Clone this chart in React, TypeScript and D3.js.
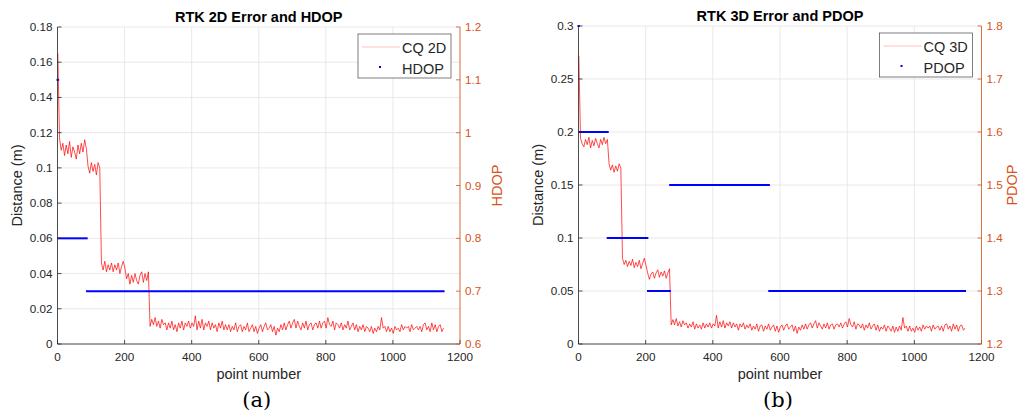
import React, { useEffect, useRef } from 'react';
import * as d3 from 'd3';

// point numbers: 1, 6, 11, ... (every 5th point)
const POINT_STEP = 5;

// CQ 2D error, mm
const err2d = [
  165, 117, 110, 114, 107, 113, 108, 115, 106, 112, 109, 105, 113, 108, 114, 109, 116, 111,
  101, 97, 103, 98, 102, 96, 103, 100,
  46, 42, 47, 41, 45, 42, 46, 41, 45, 42, 46, 40, 44, 47, 43,
  37, 40, 34, 39, 35, 40, 36, 34, 39, 41, 35, 40, 36, 41,
  10,
  14, 11, 15, 10, 13, 9, 14, 11, 12, 8, 12, 9, 13, 8, 11, 7, 12, 9, 13, 8, 12, 10, 13, 9, 12,
  10, 16, 8, 13, 9, 14, 8, 12, 10, 13, 8, 12, 9, 11, 7, 12, 9, 13, 8, 11,
  8, 11, 7, 10, 8, 12, 7, 10, 11, 7, 10, 8, 12, 7, 9, 11, 7, 10, 6, 9,
  11, 7, 10, 12, 8, 9, 11, 7, 10, 5, 9, 7, 11, 8, 12, 8, 11, 13, 9, 12,
  14, 9, 13, 10, 8, 12, 9, 13, 8, 11, 12, 8, 11, 12, 9, 13, 9, 12, 13, 9,
  15, 11, 10, 13, 8, 12, 11, 9, 12, 8, 11, 9, 13, 8, 10, 12, 8, 11, 7, 10,
  8, 11, 7, 10, 9, 7, 10, 6, 9, 7, 10, 8, 15, 9, 10, 7, 10, 7, 9, 6,
  10, 8, 9, 7, 11, 8, 10, 9, 10, 7, 11, 8, 9, 10, 8, 10, 7, 11, 12, 8,
  10, 7, 12, 8, 11, 7, 10, 11, 7, 9,
];

// CQ 3D error, mm
const err3d = [
  272, 194, 189, 186, 193, 188, 195, 185, 192, 187, 194, 189, 185, 193, 188, 195, 189, 193,
  170, 164, 169, 162, 168, 163, 170, 166,
  81, 75, 79, 73, 78, 74, 80, 72, 77, 73, 79, 71, 76, 81, 74,
  67, 61, 66, 68, 62, 67, 70, 63, 68, 64, 69, 62, 67, 71,
  18,
  23, 18, 24, 17, 21, 16, 22, 18, 20, 15, 19, 16, 21, 14, 19, 15, 18, 14, 20, 15, 19, 16, 20, 15, 19,
  17, 27, 15, 21, 16, 22, 15, 20, 17, 21, 15, 20, 16, 19, 13, 19, 16, 20, 14, 18,
  15, 19, 13, 17, 14, 19, 12, 17, 18, 12, 17, 14, 19, 13, 16, 18, 12, 17, 11, 16,
  18, 13, 17, 19, 14, 16, 18, 12, 17, 10, 16, 13, 18, 14, 19, 14, 18, 20, 15, 19,
  22, 15, 20, 17, 14, 19, 15, 20, 14, 18, 19, 14, 18, 19, 16, 20, 15, 19, 21, 16,
  24, 18, 16, 21, 14, 19, 18, 15, 19, 13, 18, 15, 20, 14, 17, 19, 13, 18, 12, 16,
  14, 18, 12, 17, 15, 12, 17, 11, 16, 12, 17, 13, 25, 15, 17, 12, 17, 12, 15, 11,
  17, 13, 16, 12, 18, 14, 17, 15, 17, 12, 18, 14, 16, 17, 13, 17, 12, 18, 19, 14,
  17, 12, 19, 14, 18, 12, 17, 18, 13, 15,
];

// DOP: constant runs (start point, end point, value)
const hdopStart = [0, 3, 88];
const hdopEnd = [2, 87, 1151];
const hdopValue = [1.1, 0.8, 0.7];

const pdopStart = [0, 3, 87, 207, 273, 568];
const pdopEnd = [1, 87, 205, 272, 567, 1151];
const pdopValue = [1.8, 1.6, 1.4, 1.3, 1.5, 1.3];

const xTicks = [0, 200, 400, 600, 800, 1000, 1200];
const dist2dTicks = [0, 0.02, 0.04, 0.06, 0.08, 0.1, 0.12, 0.14, 0.16, 0.18];
const hdopTicks = [0.6, 0.7, 0.8, 0.9, 1, 1.1, 1.2];
const dist3dTicks = [0, 0.05, 0.1, 0.15, 0.2, 0.25, 0.3];
const pdopTicks = [1.2, 1.3, 1.4, 1.5, 1.6, 1.7, 1.8];

const FONT = 'Liberation Sans, Arial, Helvetica, sans-serif';
const AX = '#262626';
const OR = '#D95319';

type PanelCfg = {
  left: number;
  right: number;
  top: number;
  bottom: number;
  title: string;
  err: number[];
  errLabel: string;
  yTicks: number[];
  y2Ticks: number[];
  dopName: string;
  dopLabelDx: number;
  dopStart: number[];
  dopEnd: number[];
  dopValue: number[];
  caption: string;
};

function drawPanel(svg: d3.Selection<SVGSVGElement, unknown, null, undefined>, c: PanelCfg) {
  const x = d3.scaleLinear().domain([0, 1200]).range([c.left, c.right]);
  const y = d3.scaleLinear().domain([c.yTicks[0], c.yTicks[c.yTicks.length - 1]]).range([c.bottom, c.top]);
  const y2 = d3.scaleLinear().domain([c.y2Ticks[0], c.y2Ticks[c.y2Ticks.length - 1]]).range([c.bottom, c.top]);
  const fmt = d3.format('~g');
  const g = svg.append('g');

  // grid
  g.selectAll('.gx').data(xTicks).enter().append('line')
    .attr('x1', d => x(d)).attr('x2', d => x(d))
    .attr('y1', c.top).attr('y2', c.bottom)
    .attr('stroke', '#e3e3e3').attr('stroke-width', 0.8);
  g.selectAll('.gy').data(c.yTicks).enter().append('line')
    .attr('x1', c.left).attr('x2', c.right)
    .attr('y1', d => y(d)).attr('y2', d => y(d))
    .attr('stroke', '#e3e3e3').attr('stroke-width', 0.8);

  // error line
  const line = d3.line<number>()
    .x((d, i) => x(1 + i * POINT_STEP))
    .y(d => y(d / 1000));
  g.append('path').datum(c.err)
    .attr('d', line)
    .attr('fill', 'none')
    .attr('stroke', '#ff0000')
    .attr('stroke-width', 0.7);

  // DOP runs
  c.dopStart.forEach((s, i) => {
    g.append('line')
      .attr('x1', x(s)).attr('x2', x(c.dopEnd[i]))
      .attr('y1', y2(c.dopValue[i])).attr('y2', y2(c.dopValue[i]))
      .attr('stroke', '#0000ff').attr('stroke-width', 2)
      .attr('stroke-linecap', 'square');
  });

  // axes
  const bottomAxis = g.append('g');
  bottomAxis.append('line')
    .attr('x1', c.left).attr('x2', c.right).attr('y1', c.bottom).attr('y2', c.bottom)
    .attr('stroke', AX).attr('stroke-width', 0.8);
  bottomAxis.selectAll('.t').data(xTicks).enter().append('line')
    .attr('x1', d => x(d)).attr('x2', d => x(d))
    .attr('y1', c.bottom).attr('y2', c.bottom - 4)
    .attr('stroke', AX).attr('stroke-width', 0.8);
  bottomAxis.selectAll('.l').data(xTicks).enter().append('text')
    .attr('x', d => x(d)).attr('y', c.bottom + 17)
    .attr('text-anchor', 'middle')
    .attr('font-family', FONT).attr('font-size', 11.7).attr('fill', AX)
    .text(d => String(d));

  const leftAxis = g.append('g');
  leftAxis.append('line')
    .attr('x1', c.left).attr('x2', c.left).attr('y1', c.top).attr('y2', c.bottom)
    .attr('stroke', AX).attr('stroke-width', 0.8);
  leftAxis.selectAll('.t').data(c.yTicks).enter().append('line')
    .attr('x1', c.left).attr('x2', c.left + 4)
    .attr('y1', d => y(d)).attr('y2', d => y(d))
    .attr('stroke', AX).attr('stroke-width', 0.8);
  leftAxis.selectAll('.l').data(c.yTicks).enter().append('text')
    .attr('x', c.left - 5).attr('y', d => y(d) + 4)
    .attr('text-anchor', 'end')
    .attr('font-family', FONT).attr('font-size', 11.7).attr('fill', AX)
    .text(d => fmt(d));

  const rightAxis = g.append('g');
  rightAxis.append('line')
    .attr('x1', c.right).attr('x2', c.right).attr('y1', c.top).attr('y2', c.bottom)
    .attr('stroke', OR).attr('stroke-width', 0.8);
  rightAxis.selectAll('.t').data(c.y2Ticks).enter().append('line')
    .attr('x1', c.right).attr('x2', c.right - 4)
    .attr('y1', d => y2(d)).attr('y2', d => y2(d))
    .attr('stroke', OR).attr('stroke-width', 0.8);
  rightAxis.selectAll('.l').data(c.y2Ticks).enter().append('text')
    .attr('x', c.right + 5).attr('y', d => y2(d) + 4)
    .attr('text-anchor', 'start')
    .attr('font-family', FONT).attr('font-size', 11.7).attr('fill', OR)
    .text(d => fmt(d));

  const midX = (c.left + c.right) / 2;
  const midY = (c.top + c.bottom) / 2;

  // titles and labels
  g.append('text')
    .attr('x', midX).attr('y', c.top - 5)
    .attr('text-anchor', 'middle')
    .attr('font-family', FONT).attr('font-size', 14.5).attr('font-weight', 'bold').attr('fill', '#000')
    .text(c.title);
  g.append('text')
    .attr('x', midX).attr('y', c.bottom + 35)
    .attr('text-anchor', 'middle')
    .attr('font-family', FONT).attr('font-size', 14.5).attr('fill', AX)
    .text('point number');
  g.append('text')
    .attr('transform', `translate(${c.left - 36},${midY}) rotate(-90)`)
    .attr('text-anchor', 'middle')
    .attr('font-family', FONT).attr('font-size', 14.5).attr('fill', AX)
    .text('Distance (m)');
  g.append('text')
    .attr('transform', `translate(${c.right + c.dopLabelDx},${midY}) rotate(-90)`)
    .attr('text-anchor', 'middle')
    .attr('font-family', FONT).attr('font-size', 14.5).attr('fill', OR)
    .text(c.dopName);

  // caption
  g.append('text')
    .attr('x', midX - 2).attr('y', c.bottom + 63)
    .attr('text-anchor', 'middle')
    .attr('font-family', 'DejaVu Serif, serif').attr('font-size', 21).attr('fill', '#000')
    .text(c.caption);

  // legend
  const lx = c.right - 102;
  const ly = c.top + 7;
  const lg = g.append('g');
  lg.append('rect')
    .attr('x', lx).attr('y', ly).attr('width', 93).attr('height', 44)
    .attr('fill', '#fff').attr('stroke', AX).attr('stroke-width', 0.6);
  lg.append('line')
    .attr('x1', lx + 4).attr('x2', lx + 42).attr('y1', ly + 13).attr('y2', ly + 13)
    .attr('stroke', '#ff0000').attr('stroke-width', 0.5).attr('stroke-opacity', 0.5);
  lg.append('text')
    .attr('x', lx + 44).attr('y', ly + 19)
    .attr('font-family', FONT).attr('font-size', 14.5).attr('fill', AX)
    .text(c.errLabel);
  lg.append('rect')
    .attr('x', lx + 21).attr('y', ly + 32).attr('width', 2).attr('height', 2)
    .attr('fill', '#0000ff');
  lg.append('text')
    .attr('x', lx + 44).attr('y', ly + 40)
    .attr('font-family', FONT).attr('font-size', 14.5).attr('fill', AX)
    .text(c.dopName);
}

export default function App() {
  const ref = useRef<SVGSVGElement>(null);

  useEffect(() => {
    const svg = d3.select(ref.current as SVGSVGElement);
    svg.selectAll('*').remove();
    svg.append('rect').attr('width', 1020).attr('height', 420).attr('fill', '#fff');

    drawPanel(svg, {
      left: 57.5, right: 460, top: 27, bottom: 344,
      title: 'RTK 2D Error and HDOP',
      err: err2d, errLabel: 'CQ 2D',
      yTicks: dist2dTicks, y2Ticks: hdopTicks,
      dopName: 'HDOP', dopLabelDx: 42,
      dopStart: hdopStart, dopEnd: hdopEnd, dopValue: hdopValue,
      caption: '(a)',
    });
    drawPanel(svg, {
      left: 578.5, right: 981.5, top: 26, bottom: 344,
      title: 'RTK 3D Error and PDOP',
      err: err3d, errLabel: 'CQ 3D',
      yTicks: dist3dTicks, y2Ticks: pdopTicks,
      dopName: 'PDOP', dopLabelDx: 35,
      dopStart: pdopStart, dopEnd: pdopEnd, dopValue: pdopValue,
      caption: '(b)',
    });
  }, []);

  return (
    <svg
      ref={ref}
      width={1020}
      height={420}
      style={{ position: 'absolute', left: 0, top: 0, display: 'block' }}
    />
  );
}
